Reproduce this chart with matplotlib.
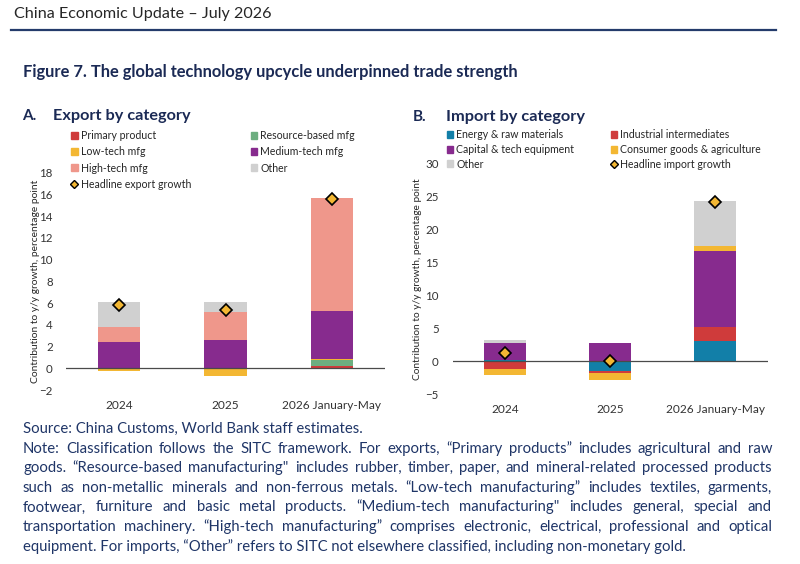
import numpy as np
import matplotlib
matplotlib.use('Agg')
import matplotlib.pyplot as plt
from matplotlib.patches import Patch
from matplotlib.lines import Line2D

W, H = 800, 564
FONT = ['Lato', 'DejaVu Sans']
plt.rcParams['font.family'] = FONT

# categories
years = ['2024', '2025', '2026 January-May']

# Panel A - export contributions to y/y growth, pp
exp_labels = ['Primary product', 'Resource-based mfg', 'Low-tech mfg',
              'Medium-tech mfg', 'High-tech mfg', 'Other']
exp_primary = [0.02, 0.03, 0.25]
exp_resource = [0.05, 0.02, 0.48]
exp_lowtech = [-0.28, -0.74, 0.09]
exp_medtech = [2.33, 2.55, 4.48]
exp_hightech = [1.43, 2.58, 10.34]
exp_other = [2.27, 0.95, 0.0]
exp_headline = [5.86, 5.37, 15.55]

# Panel B - import contributions to y/y growth, pp
imp_labels = ['Energy & raw materials', 'Industrial intermediates',
              'Capital & tech equipment', 'Consumer goods & agriculture', 'Other']
imp_energy = [0.2, -1.47, 3.08]
imp_industrial = [-1.16, -0.23, 2.12]
imp_capital = [2.55, 2.73, 11.5]
imp_consumer = [-0.98, -1.1, 0.7]
imp_other = [0.55, 0.1, 6.9]
imp_headline = [1.2, 0.1, 24.2]

exp_ticks = np.arange(-2, 19, 2)
imp_ticks = np.arange(-5, 31, 5)

RED = '#CF3B3B'
GREEN = '#6DAE80'
YELLOW = '#F3B733'
PURPLE = '#872B8E'
SALMON = '#EF978B'
GREY = '#D0D0D0'
TEAL = '#127FA8'
NAVY = '#1B2A55'
TXT = '#262626'

fig = plt.figure(figsize=(W / 100, H / 100), dpi=100)
renderer = fig.canvas.get_renderer()


def fx(x):
    return x / W


def fy(y):
    return 1 - y / H


def fit_width(t, width):
    w = t.get_window_extent(renderer).width
    t.set_fontsize(t.get_fontsize() * width / w)


def stacked(ax, series, colors, headline):
    x = np.arange(len(years))
    pos = np.zeros(len(years))
    neg = np.zeros(len(years))
    for vals, c in zip(series, colors):
        v = np.array(vals, dtype=float)
        bottom = np.where(v >= 0, pos, neg)
        ax.bar(x, v, 0.4, bottom=bottom, color=c, linewidth=0, zorder=2)
        pos += np.clip(v, 0, None)
        neg += np.clip(v, None, 0)
    ax.axhline(0, color='#4a4a4a', lw=0.9, zorder=3)
    ax.plot(x, headline, 'D', ms=6.5, mfc=YELLOW, mec='black', mew=1.2, zorder=5)
    ax.set_xlim(-0.5, 2.5)
    ax.set_xticks(x)
    ax.set_xticklabels(years)
    for s in ax.spines.values():
        s.set_visible(False)
    ax.tick_params(length=0, labelsize=8.3, colors='#333333')
    ax.tick_params(axis='x', pad=7, labelsize=8.6)


def add_legend(handles, labels, x, y, spacing):
    fig.legend(handles, labels, loc='upper left', bbox_to_anchor=(fx(x), fy(y)),
               frameon=False, fontsize=7.6, borderpad=0, borderaxespad=0,
               handlelength=0.62, handleheight=0.62, handletextpad=0.3,
               labelspacing=spacing, labelcolor=TXT)


diamond = Line2D([], [], marker='D', ls='none', ms=4, mfc=YELLOW, mec='black', mew=1)

# ---- Panel A
axA = fig.add_axes([fx(66), fy(390), fx(385) - fx(66), fy(172.7) - fy(390)])
exp_colors = [RED, GREEN, YELLOW, PURPLE, SALMON, GREY]
stacked(axA, [exp_primary, exp_resource, exp_lowtech, exp_medtech, exp_hightech, exp_other],
        exp_colors, exp_headline)
axA.set_ylim(-2, 18)
axA.set_yticks(exp_ticks)
axA.tick_params(axis='y', pad=9.5)
axA.set_ylabel('Contribution to y/y growth, percentage point', fontsize=7.4, color=TXT, va='center')
axA.yaxis.set_label_coords(-0.095, 0.5)

hA = [Patch(color=c) for c in exp_colors]
add_legend([hA[0], hA[2], hA[4], diamond],
           [exp_labels[0], exp_labels[2], exp_labels[4], 'Headline export growth'], 71, 130, 0.5)
add_legend([hA[1], hA[3], hA[5]], [exp_labels[1], exp_labels[3], exp_labels[5]], 250.7, 130, 0.5)

# ---- Panel B
axB = fig.add_axes([fx(452.5), fy(394.3), fx(767.5) - fx(452.5), fy(163.3) - fy(394.3)])
imp_colors = [TEAL, RED, PURPLE, YELLOW, GREY]
stacked(axB, [imp_energy, imp_industrial, imp_capital, imp_consumer, imp_other],
        imp_colors, imp_headline)
axB.set_ylim(-5, 30)
axB.set_yticks(imp_ticks)
axB.tick_params(axis='y', pad=10)
axB.set_ylabel('Contribution to y/y growth, percentage point', fontsize=7.3, color=TXT, va='center')
axB.yaxis.set_label_coords(-0.11, 0.5)

hB = [Patch(color=c) for c in imp_colors]
add_legend([hB[0], hB[2], hB[4]], [imp_labels[0], imp_labels[2], imp_labels[4]], 446.5, 129, 0.36)
add_legend([hB[1], hB[3], diamond], [imp_labels[1], imp_labels[3], 'Headline import growth'],
           610.7, 129, 0.36)

# ---- header and titles
t = fig.text(fx(14), fy(14), 'China Economic Update \u2013 July 2026', fontsize=10,
             color=TXT, va='center')
fit_width(t, 257)
fig.add_artist(Line2D([fx(11), fx(776)], [fy(30), fy(30)], color='#243B6B', lw=1.6))

t = fig.text(fx(23), fy(72), 'Figure 7. The global technology upcycle underpinned trade strength',
             fontsize=10, weight='bold', color=NAVY, va='center')
fit_width(t, 499)

fig.text(fx(22), fy(116), 'A.', fontsize=11, weight='bold', color=NAVY, va='center')
t = fig.text(fx(52.7), fy(116), 'Export by category', fontsize=10, weight='bold', color=NAVY, va='center')
fit_width(t, 138)
fig.text(fx(413), fy(117), 'B.', fontsize=11, weight='bold', color=NAVY, va='center')
t = fig.text(fx(445.7), fy(117), 'Import by category', fontsize=10, weight='bold', color=NAVY, va='center')
fit_width(t, 139)

# ---- source and justified note
NOTE_C = '#1F3567'
src = fig.text(fx(23), fy(429), 'Source: China Customs, World Bank staff estimates.',
               fontsize=10, color=NOTE_C, va='center')
fit_width(src, 340)
note_size = src.get_fontsize()

note_lines = [
    'Note: Classification follows the SITC framework. For exports, \u201cPrimary products\u201d includes agricultural and raw',
    'goods. \u201cResource-based manufacturing" includes rubber, timber, paper, and mineral-related processed products',
    'such as non-metallic minerals and non-ferrous metals. \u201cLow-tech manufacturing\u201d includes textiles, garments,',
    'footwear, furniture and basic metal products. \u201cMedium-tech manufacturing" includes general, special and',
    'transportation machinery. \u201cHigh-tech manufacturing\u201d comprises electronic, electrical, professional and optical',
    'equipment. For imports, \u201cOther\u201d refers to SITC not elsewhere classified, including non-monetary gold.',
]

x0, x1 = 23, 772
for i, line in enumerate(note_lines):
    y = 448.6 + 19.6 * i
    if i == len(note_lines) - 1:
        fig.text(fx(x0), fy(y), line, fontsize=note_size, color=NOTE_C, va='center')
        continue
    words = line.split(' ')
    texts = [fig.text(0, fy(y), w, fontsize=note_size, color=NOTE_C, va='center') for w in words]
    widths = [tt.get_window_extent(renderer).width for tt in texts]
    gap = (x1 - x0 - sum(widths)) / (len(words) - 1)
    xp = x0
    for tt, w in zip(texts, widths):
        tt.set_x(fx(xp))
        xp += w + gap

fig.savefig('out.png', dpi=100)
